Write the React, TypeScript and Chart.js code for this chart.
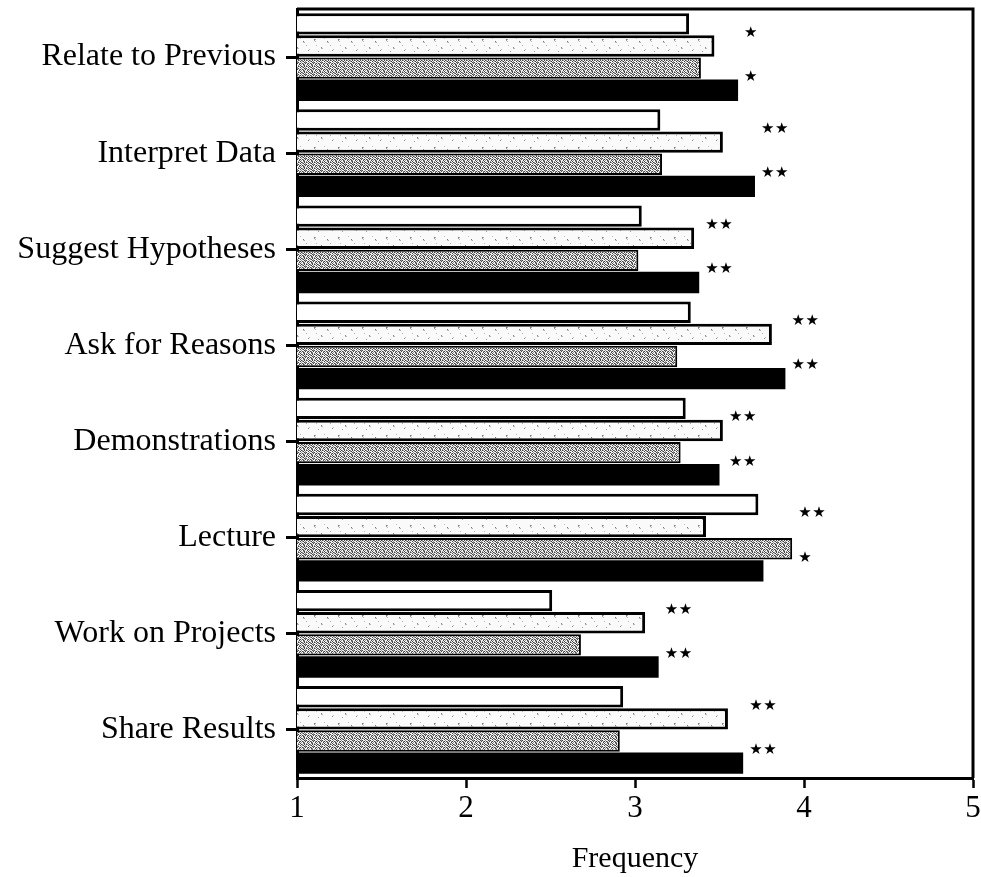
import React, { useEffect, useRef } from "react";
import { Chart, registerables } from "chart.js";

Chart.register(...registerables);

const categories = [
  "Relate to Previous",
  "Interpret Data",
  "Suggest Hypotheses",
  "Ask for Reasons",
  "Demonstrations",
  "Lecture",
  "Work on Projects",
  "Share Results",
];

const seriesNames = ["Group 1", "Group 2", "Group 3", "Group 4"];

const seriesA = [3.32, 3.15, 3.04, 3.33, 3.30, 3.73, 2.51, 2.93];
const seriesB = [3.47, 3.52, 3.35, 3.81, 3.52, 3.42, 3.06, 3.55];
const seriesC = [3.39, 3.16, 3.02, 3.25, 3.27, 3.93, 2.68, 2.91];
const seriesD = [3.61, 3.71, 3.38, 3.89, 3.50, 3.76, 3.14, 3.64];

const sigUpper = ["*", "**", "**", "**", "**", "**", "**", "**"];
const sigLower = ["*", "**", "**", "**", "**", "*", "**", "**"];

const xMin = 1;
const xMax = 5;
const axisTitle = "Frequency";

function makeSpecklePattern(ctx: CanvasRenderingContext2D): CanvasPattern | string {
  const c = document.createElement("canvas");
  c.width = 24;
  c.height = 18;
  const t = c.getContext("2d");
  if (!t) return "#f2f2f2";
  t.fillStyle = "#fafafa";
  t.fillRect(0, 0, 24, 18);
  const dots: [number, number, string][] = [
    [2, 3, "#777"], [3, 3, "#aaa"], [2, 4, "#999"], [3, 5, "#bbb"],
    [9, 11, "#888"], [10, 12, "#bbb"], [9, 12, "#aaa"],
    [15, 5, "#777"], [16, 6, "#aaa"], [15, 6, "#ccc"],
    [20, 14, "#888"], [21, 13, "#bbb"],
    [6, 15, "#999"], [12, 2, "#bbb"], [18, 9, "#aaa"], [4, 9, "#bbb"],
  ];
  dots.forEach(([x, y, col]) => {
    t.fillStyle = col;
    t.fillRect(x, y, 1, 1);
  });
  return ctx.createPattern(c, "repeat") || "#f2f2f2";
}

function makeTexturePattern(ctx: CanvasRenderingContext2D): CanvasPattern | string {
  const rows = [
    "#.#o.#o.",
    ".o..#.o#",
    "#o#..o..",
    ".#.o#.#o",
    "o..#.o.#",
    "#.o.#..o",
  ];
  const c = document.createElement("canvas");
  c.width = 8;
  c.height = rows.length;
  const t = c.getContext("2d");
  if (!t) return "#aaa";
  const map: Record<string, string> = { "#": "#444", o: "#909090", ".": "#f4f4f4" };
  rows.forEach((r, y) => {
    for (let x = 0; x < r.length; x++) {
      t.fillStyle = map[r[x]];
      t.fillRect(x, y, 1, 1);
    }
  });
  return ctx.createPattern(c, "repeat") || "#aaa";
}

const framePlugin = {
  id: "frame",
  afterDraw(chart: any) {
    const { ctx, chartArea } = chart;
    ctx.save();
    ctx.strokeStyle = "#000";
    ctx.lineWidth = 3;
    ctx.beginPath();
    ctx.moveTo(chartArea.left, chartArea.top);
    ctx.lineTo(chartArea.right, chartArea.top);
    ctx.lineTo(chartArea.right, chartArea.bottom);
    ctx.stroke();
    ctx.restore();
  },
};

const starsPlugin = {
  id: "stars",
  afterDatasetsDraw(chart: any) {
    const ctx = chart.ctx;
    const xs = chart.scales.x;
    const metas = [0, 1, 2, 3].map((i) => chart.getDatasetMeta(i));
    ctx.save();
    ctx.fillStyle = "#000";
    ctx.font = '15px "DejaVu Sans"';
    ctx.textBaseline = "middle";
    ctx.textAlign = "left";
    const draw = (s: string, x: number, y: number) => {
      for (let k = 0; k < s.length; k++) {
        ctx.fillText("\u2605", x + k * 14, y);
      }
    };
    categories.forEach((_, i) => {
      const maxV = Math.max(seriesA[i], seriesB[i], seriesC[i], seriesD[i]);
      const x0 = xs.getPixelForValue(maxV) + 6;
      const yU = (metas[0].data[i].y + metas[1].data[i].y) / 2 - 2;
      const yL = (metas[2].data[i].y + metas[3].data[i].y) / 2 - 2;
      draw(sigUpper[i], x0, yU);
      draw(sigLower[i], x0, yL);
    });
    ctx.restore();
  },
};

export default function App() {
  const ref = useRef<HTMLCanvasElement | null>(null);

  useEffect(() => {
    const canvas = ref.current;
    if (!canvas) return;
    const ctx = canvas.getContext("2d");
    if (!ctx) return;
    const speckle = makeSpecklePattern(ctx);
    const texture = makeTexturePattern(ctx);
    const serif = '"Liberation Serif", "Times New Roman", serif';

    const chart = new Chart(ctx, {
      type: "bar",
      data: {
        labels: categories,
        datasets: [
          { label: seriesNames[0], data: seriesA, backgroundColor: "#ffffff", borderColor: "#000", borderWidth: 3 },
          { label: seriesNames[1], data: seriesB, backgroundColor: speckle as any, borderColor: "#000", borderWidth: 3 },
          { label: seriesNames[2], data: seriesC, backgroundColor: texture as any, borderColor: "#000", borderWidth: 2 },
          { label: seriesNames[3], data: seriesD, backgroundColor: "#000000", borderColor: "#000", borderWidth: 0 },
        ].map((d) => ({ ...d, borderSkipped: false, categoryPercentage: 0.92, barPercentage: 0.97 })),
      },
      options: {
        indexAxis: "y",
        animation: false,
        responsive: false,
        events: [],
        layout: { padding: { top: 9, right: 8, left: 0, bottom: 0 } },
        plugins: {
          legend: { display: false },
          tooltip: { enabled: false },
          title: { display: false },
        },
        scales: {
          x: {
            type: "linear",
            min: xMin,
            max: xMax,
            ticks: {
              stepSize: 1,
              color: "#000",
              font: { family: serif, size: 31 },
              padding: 2,
            },
            grid: {
              drawOnChartArea: false,
              drawTicks: true,
              tickLength: 10,
              tickColor: "#000",
              tickWidth: 2.5,
            },
            border: { color: "#000", width: 3 },
            title: {
              display: true,
              text: axisTitle,
              color: "#000",
              font: { family: serif, size: 30 },
              padding: { top: 0, bottom: 0 },
            },
            afterFit: (s: any) => {
              s.height = 99;
              s.paddingLeft = 0;
              s.paddingRight = 0;
            },
          },
          y: {
            type: "category",
            ticks: {
              color: "#000",
              font: { family: serif, size: 32 },
              padding: 10,
            },
            grid: {
              offset: false,
              drawOnChartArea: false,
              drawTicks: true,
              tickLength: 11,
              tickColor: "#000",
              tickWidth: 3,
            },
            border: { color: "#000", width: 3 },
            afterFit: (s: any) => {
              s.width = 297;
              s.paddingTop = 0;
              s.paddingBottom = 0;
            },
          },
        },
      },
      plugins: [framePlugin, starsPlugin],
    } as any);

    return () => chart.destroy();
  }, []);

  return (
    <div style={{ position: "fixed", left: 0, top: 0, width: 981, height: 877, background: "#fff" }}>
      <canvas ref={ref} width={981} height={877} style={{ display: "block" }} />
    </div>
  );
}
